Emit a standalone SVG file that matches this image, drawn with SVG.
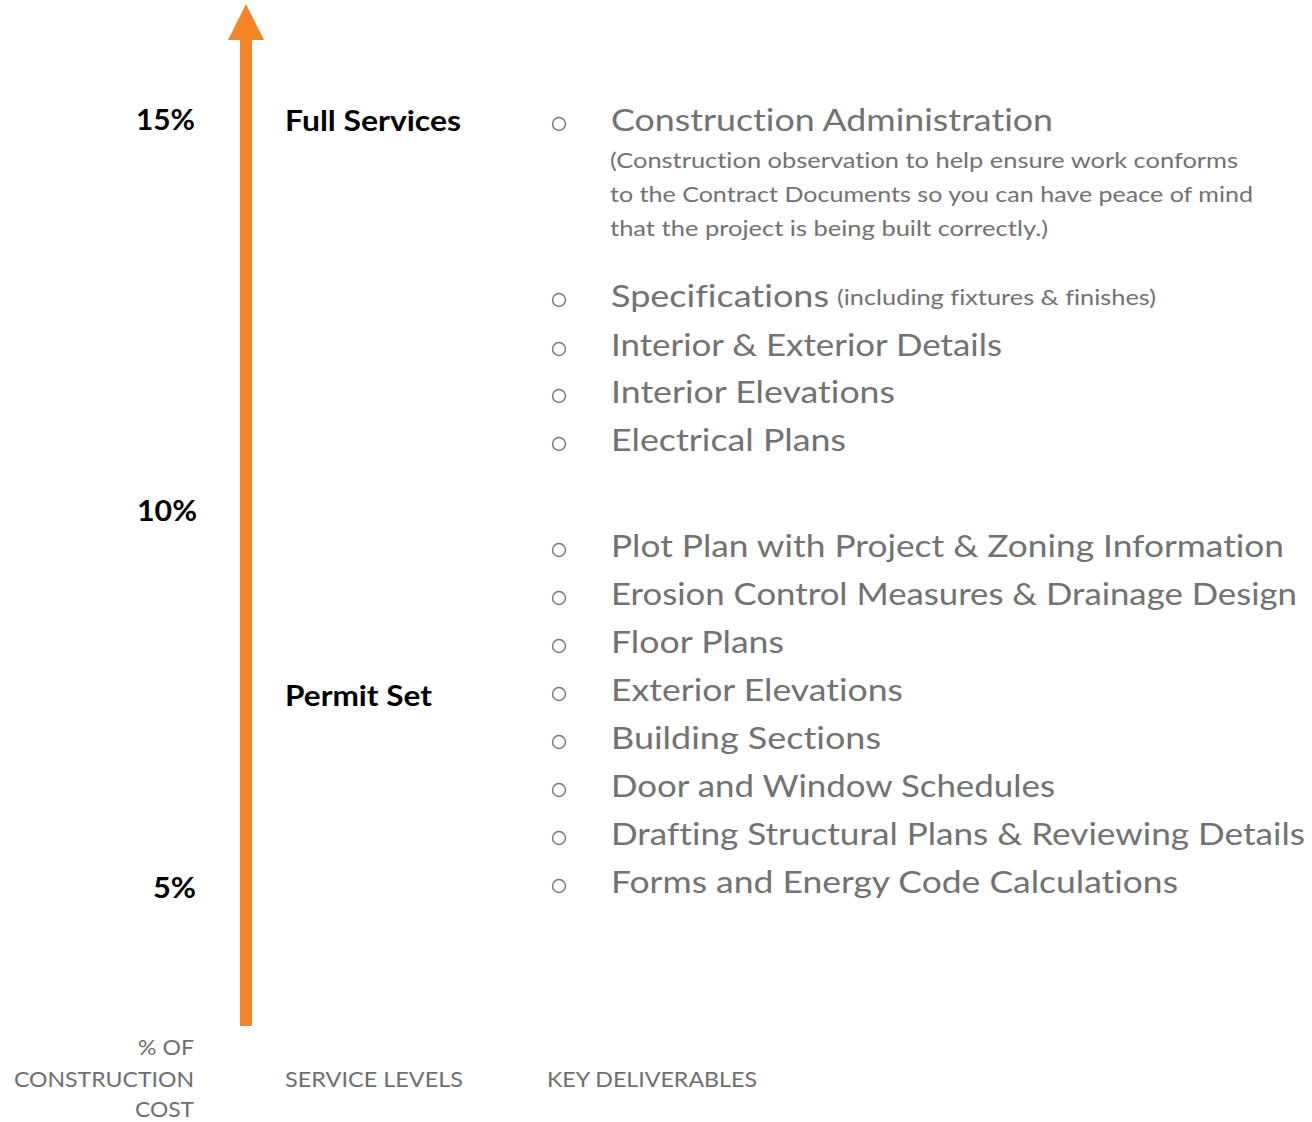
<svg xmlns="http://www.w3.org/2000/svg" width="1312" height="1122" viewBox="0 0 1312 1122">
  <style>
    text { font-family: "Lato", "Liberation Sans", sans-serif; font-variant-ligatures: none; }
    .pct { font-weight: 700; font-size: 28px; fill: #000; text-anchor: end; }
    .lvl { font-weight: 700; font-size: 28px; fill: #000; }
    .item { font-size: 30px; fill: #727272; }
    .note { font-size: 22px; fill: #727272; }
    .axis { font-size: 22px; fill: #6f6f6f; }
    .bullet { fill: none; stroke: #777777; stroke-width: 1.4; }
  </style>

  <rect width="1312" height="1122" fill="#ffffff"/>

  <!-- rising cost arrow -->
  <g id="connectors">
    <rect x="240" y="38" width="12" height="988" fill="#F58426"/>
    <polygon points="246,4 264,40 228,40" fill="#F58426"/>
  </g>

  <!-- percentage scale -->
  <g id="scale">
    <text class="pct" x="195" y="130" textLength="59" lengthAdjust="spacingAndGlyphs">15%</text>
    <text class="pct" x="197" y="521" textLength="60" lengthAdjust="spacingAndGlyphs">10%</text>
    <text class="pct" x="196" y="898" textLength="43" lengthAdjust="spacingAndGlyphs">5%</text>
  </g>

  <!-- service levels -->
  <g id="level-full">
    <text class="lvl" x="285" y="131" textLength="176" lengthAdjust="spacingAndGlyphs">Full Services</text>
  </g>
  <g id="level-permit">
    <text class="lvl" x="285" y="706" textLength="147" lengthAdjust="spacingAndGlyphs">Permit Set</text>
  </g>

  <!-- deliverables for full services -->
  <g id="deliverables-full">
    <circle class="bullet" cx="559" cy="124" r="6.5"/>
    <text class="item" x="611" y="131" textLength="442" lengthAdjust="spacingAndGlyphs">Construction Administration</text>
    <text class="note" x="610" y="168" textLength="628" lengthAdjust="spacingAndGlyphs">(Construction observation to help ensure work conforms</text>
    <text class="note" x="610" y="202" textLength="643" lengthAdjust="spacingAndGlyphs">to the Contract Documents so you can have peace of mind</text>
    <text class="note" x="610" y="236" textLength="438" lengthAdjust="spacingAndGlyphs">that the project is being built correctly.)</text>

    <circle class="bullet" cx="559" cy="300" r="6.5"/>
    <text class="item" x="611" y="307" textLength="218" lengthAdjust="spacingAndGlyphs">Specifications</text>
    <text class="note" x="837" y="305" textLength="319" lengthAdjust="spacingAndGlyphs">(including fixtures &amp; finishes)</text>

    <circle class="bullet" cx="559" cy="349" r="6.5"/>
    <text class="item" x="611" y="356" textLength="391" lengthAdjust="spacingAndGlyphs">Interior &amp; Exterior Details</text>

    <circle class="bullet" cx="559" cy="396" r="6.5"/>
    <text class="item" x="611" y="403" textLength="284" lengthAdjust="spacingAndGlyphs">Interior Elevations</text>

    <circle class="bullet" cx="559" cy="444" r="6.5"/>
    <text class="item" x="611" y="451" textLength="235" lengthAdjust="spacingAndGlyphs">Electrical Plans</text>
  </g>

  <!-- deliverables for the permit set -->
  <g id="deliverables-permit">
    <circle class="bullet" cx="559" cy="550" r="6.5"/>
    <text class="item" x="611" y="557" textLength="673" lengthAdjust="spacingAndGlyphs">Plot Plan with Project &amp; Zoning Information</text>

    <circle class="bullet" cx="559" cy="598" r="6.5"/>
    <text class="item" x="611" y="605" textLength="686" lengthAdjust="spacingAndGlyphs">Erosion Control Measures &amp; Drainage Design</text>

    <circle class="bullet" cx="559" cy="646" r="6.5"/>
    <text class="item" x="611" y="653" textLength="173" lengthAdjust="spacingAndGlyphs">Floor Plans</text>

    <circle class="bullet" cx="559" cy="694" r="6.5"/>
    <text class="item" x="611" y="701" textLength="292" lengthAdjust="spacingAndGlyphs">Exterior Elevations</text>

    <circle class="bullet" cx="559" cy="742" r="6.5"/>
    <text class="item" x="611" y="749" textLength="270" lengthAdjust="spacingAndGlyphs">Building Sections</text>

    <circle class="bullet" cx="559" cy="790" r="6.5"/>
    <text class="item" x="611" y="797" textLength="444" lengthAdjust="spacingAndGlyphs">Door and Window Schedules</text>

    <circle class="bullet" cx="559" cy="838" r="6.5"/>
    <text class="item" x="611" y="845" textLength="694" lengthAdjust="spacingAndGlyphs">Drafting Structural Plans &amp; Reviewing Details</text>

    <circle class="bullet" cx="559" cy="886" r="6.5"/>
    <text class="item" x="611" y="893" textLength="567" lengthAdjust="spacingAndGlyphs">Forms and Energy Code Calculations</text>
  </g>

  <!-- column captions -->
  <g id="captions">
    <text class="axis" x="194" y="1055" text-anchor="end" textLength="56" lengthAdjust="spacingAndGlyphs">% OF</text>
    <text class="axis" x="194" y="1087" text-anchor="end" textLength="180" lengthAdjust="spacingAndGlyphs">CONSTRUCTION</text>
    <text class="axis" x="194" y="1117" text-anchor="end" textLength="59" lengthAdjust="spacingAndGlyphs">COST</text>
    <text class="axis" x="285" y="1087" textLength="178" lengthAdjust="spacingAndGlyphs">SERVICE LEVELS</text>
    <text class="axis" x="547" y="1087" textLength="210" lengthAdjust="spacingAndGlyphs">KEY DELIVERABLES</text>
  </g>
</svg>
